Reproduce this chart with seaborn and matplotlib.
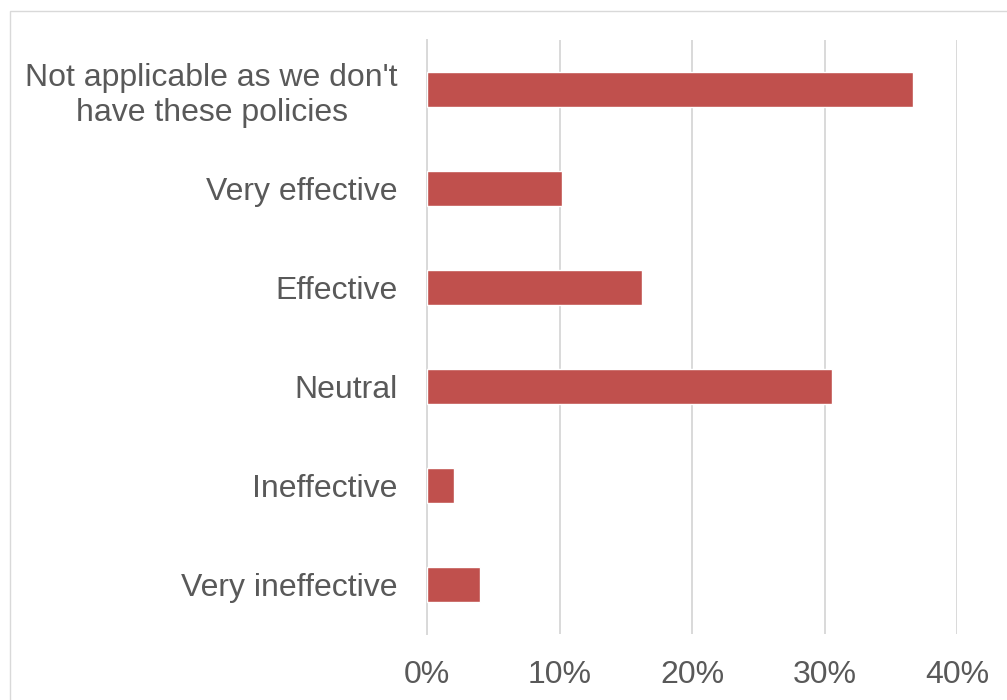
import matplotlib
matplotlib.use("Agg")
import matplotlib.pyplot as plt
import seaborn as sns
import pandas as pd
from matplotlib.patches import Rectangle
from matplotlib.ticker import FuncFormatter

categories = ["Not applicable as we don't\nhave these policies", "Very effective",
              "Effective", "Neutral", "Ineffective", "Very ineffective"]
values = [0.367, 0.102, 0.162, 0.306, 0.020, 0.040]
xticks = [0, 0.1, 0.2, 0.3, 0.4]

sns.set_theme(style="white")
plt.rcParams['font.family'] = ['Liberation Sans', 'DejaVu Sans']

df = pd.DataFrame({"cat": categories, "val": values})

fig = plt.figure(figsize=(10.07, 7.0), dpi=100)
ax = fig.add_axes([427/1007, 1-634/700, (957-427)/1007, (634-40)/700])

sns.barplot(data=df, x="val", y="cat", orient="h", color="#C0504D",
            saturation=1, width=0.35, ax=ax, zorder=3)

ax.set_xlim(0, 0.4)
ax.set_ylim(len(categories)-0.5, -0.5)
ax.set_xticks(xticks)
ax.xaxis.set_major_formatter(FuncFormatter(lambda v, p: f"{v*100:.0f}%"))
ax.grid(axis="x", color="#D9D9D9", linewidth=1.4, zorder=0)
ax.set_axisbelow(True)
for s in ["top", "right", "bottom"]:
    ax.spines[s].set_visible(False)
ax.spines["left"].set_color("#D9D9D9")
ax.spines["left"].set_linewidth(1.4)
ax.set_xlabel("")
ax.set_ylabel("")
ax.tick_params(axis="x", length=0, pad=19, labelsize=23, labelcolor="#595959")
ax.tick_params(axis="y", length=0, pad=21, labelsize=23, labelcolor="#595959")
for lbl in ax.get_yticklabels():
    lbl.set_multialignment("center")

fig.patches.append(Rectangle((9.5/1007, -0.1), 1.2, 1-10.5/700+0.1,
                             transform=fig.transFigure, fill=False,
                             edgecolor="#D9D9D9", linewidth=1.0))

fig.savefig("out.png", dpi=100)
